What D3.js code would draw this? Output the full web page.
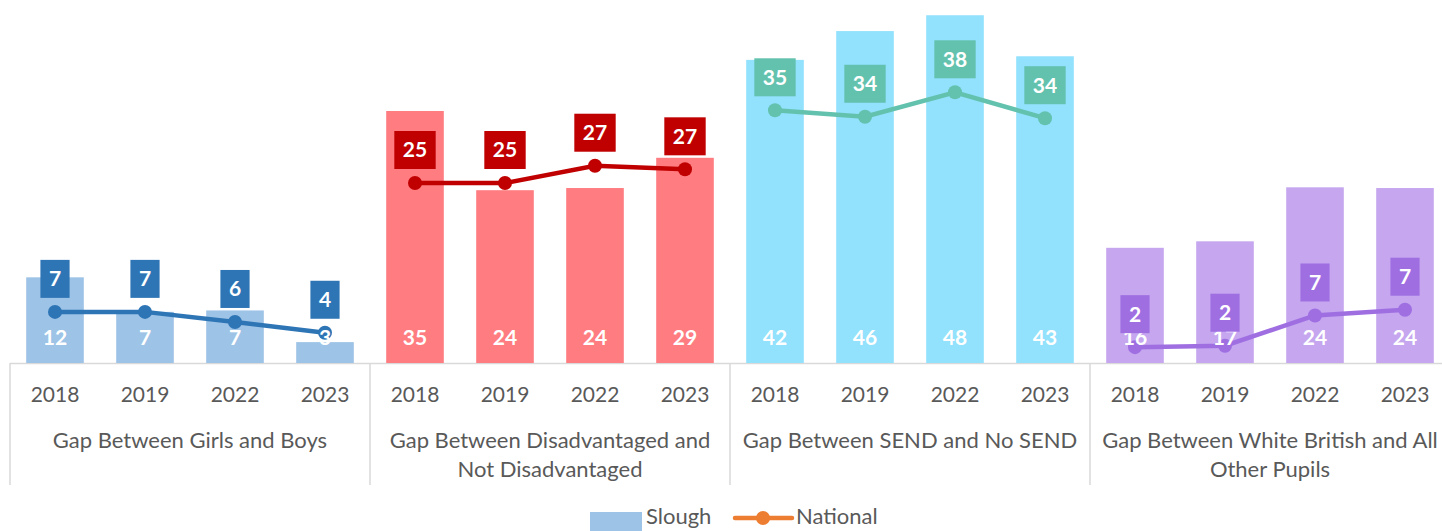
<!DOCTYPE html>
<html>
<head>
<meta charset="utf-8">
<script src="https://cdn.jsdelivr.net/npm/d3@7"></script>
<style>
  body { margin: 0; background: #fff; }
  svg { display: block; font-family: Lato, "Open Sans", sans-serif; }
</style>
</head>
<body>
<svg id="chart"></svg>
<script>
// Attainment gaps: Slough (bars) vs National (lines), four gap measures x four years

const groups = ["girlsBoys", "disadvantaged", "send", "whiteBritish"];
const groupLabels = [
    ["Gap Between Girls and Boys"],
    ["Gap Between Disadvantaged and", "Not Disadvantaged"],
    ["Gap Between SEND and No SEND"],
    ["Gap Between White British and All", "Other Pupils"]
];
const years = ["2018", "2019", "2022", "2023"];

const sloughGirlsBoys = [11.9, 7.1, 7.3, 2.9];
const sloughDisadvantaged = [35.0, 24.0, 24.3, 28.5];
const sloughSend = [42.1, 46.1, 48.3, 42.6];
const sloughWhiteBritish = [16.0, 16.9, 24.4, 24.3];

const nationalGirlsBoys = [7.1, 7.1, 5.7, 4.2];
const nationalDisadvantaged = [25.0, 25.0, 27.4, 26.9];
const nationalSend = [35.1, 34.2, 37.6, 34.0];
const nationalWhiteBritish = [2.2, 2.4, 6.6, 7.4];

const sloughValues = [sloughGirlsBoys, sloughDisadvantaged, sloughSend, sloughWhiteBritish];
const nationalValues = [nationalGirlsBoys, nationalDisadvantaged, nationalSend, nationalWhiteBritish];

const barColors = ["#9dc3e6", "#ff7c80", "#92e1fd", "#c5a6ef"];
const lineColors = ["#2e75b6", "#c00000", "#63c2ae", "#9f6fe2"];

const chartWidth = 1442;
const chartHeight = 531;
const textColor = "#595959";
const gridColor = "#d9d9d9";

const svg = d3.select("#chart")
    .attr("width", chartWidth)
    .attr("height", chartHeight);

const xGroup = d3.scaleBand().domain(groups).range([10, 1450]);
const xYear = d3.scaleBand().domain(years)
    .range([0, xGroup.bandwidth()])
    .paddingInner(0.36)
    .paddingOuter(0.18);
const yScale = d3.scaleLinear().domain([0, 50]).range([363, 3]);

const cx = (gi, yi) => xGroup(groups[gi]) + xYear(years[yi]) + xYear.bandwidth() / 2;

// category axis frame
const axisG = svg.append("g");
axisG.append("line")
    .attr("x1", 10).attr("x2", 1450)
    .attr("y1", yScale(0) + 0.5).attr("y2", yScale(0) + 0.5)
    .attr("stroke", gridColor).attr("stroke-width", 1.5);
axisG.selectAll(".sep")
    .data(groups)
    .join("line")
    .attr("x1", d => xGroup(d)).attr("x2", d => xGroup(d))
    .attr("y1", yScale(0)).attr("y2", 485)
    .attr("stroke", gridColor).attr("stroke-width", 1.5);

groups.forEach((grp, gi) => {
    axisG.selectAll(null)
        .data(years)
        .join("text")
        .attr("x", (d, yi) => cx(gi, yi))
        .attr("y", 395)
        .attr("dy", "0.35em")
        .attr("text-anchor", "middle")
        .attr("font-size", "21px")
        .attr("fill", textColor)
        .text(d => d);

    axisG.selectAll(null)
        .data(groupLabels[gi])
        .join("text")
        .attr("x", xGroup(grp) + xGroup.bandwidth() / 2)
        .attr("y", (d, i) => 440 + i * 29)
        .attr("dy", "0.35em")
        .attr("text-anchor", "middle")
        .attr("font-size", "22px")
        .attr("fill", textColor)
        .text(d => d);
});

const line = d3.line()
    .x(d => d.x)
    .y(d => yScale(d.v));

const plot = svg.append("g");

// bars
groups.forEach((grp, gi) => {
    plot.selectAll(null)
        .data(sloughValues[gi])
        .join("rect")
        .attr("x", (d, yi) => xGroup(grp) + xYear(years[yi]))
        .attr("width", xYear.bandwidth())
        .attr("y", d => yScale(d))
        .attr("height", d => yScale(0) - yScale(d))
        .attr("fill", barColors[gi]);
});

// national lines
groups.forEach((grp, gi) => {
    const pts = nationalValues[gi].map((v, yi) => ({ x: cx(gi, yi), v }));
    plot.append("path")
        .datum(pts)
        .attr("fill", "none")
        .attr("stroke", lineColors[gi])
        .attr("stroke-width", 4.5)
        .attr("d", line);
    plot.selectAll(null)
        .data(pts)
        .join("circle")
        .attr("cx", d => d.x)
        .attr("cy", d => yScale(d.v))
        .attr("r", 7)
        .attr("fill", lineColors[gi]);
});

// bar labels
groups.forEach((grp, gi) => {
    plot.selectAll(null)
        .data(sloughValues[gi])
        .join("text")
        .attr("x", (d, yi) => cx(gi, yi))
        .attr("y", 338)
        .attr("dy", "0.35em")
        .attr("text-anchor", "middle")
        .attr("font-size", "21px")
        .attr("font-weight", "bold")
        .attr("fill", "#fff")
        .text(d => Math.round(d));
});

// national label boxes
groups.forEach((grp, gi) => {
    nationalValues[gi].forEach((v, yi) => {
        const x = cx(gi, yi);
        const yBottom = yScale(v) - 14;
        const lbl = plot.append("g");
        const txt = lbl.append("text")
            .attr("x", x)
            .attr("y", yBottom - 19)
            .attr("dy", "0.35em")
            .attr("text-anchor", "middle")
            .attr("font-size", "21px")
            .attr("font-weight", "bold")
            .attr("fill", "#fff")
            .text(Math.round(v));
        const w = txt.node().getComputedTextLength() + 17;
        lbl.insert("rect", "text")
            .attr("x", x - w / 2)
            .attr("y", yBottom - 38)
            .attr("width", w)
            .attr("height", 38)
            .attr("fill", lineColors[gi]);
    });
});

// legend
const legend = svg.append("g");
legend.append("rect")
    .attr("x", 590).attr("y", 512)
    .attr("width", 52).attr("height", 20)
    .attr("fill", barColors[0]);
legend.append("text")
    .attr("x", 646).attr("y", 516)
    .attr("dy", "0.35em")
    .attr("font-size", "22px")
    .attr("fill", textColor)
    .text("Slough");
legend.append("line")
    .attr("x1", 735).attr("x2", 792)
    .attr("y1", 518).attr("y2", 518)
    .attr("stroke", "#ed7d31").attr("stroke-width", 4.5)
    .attr("stroke-linecap", "round");
legend.append("circle")
    .attr("cx", 763).attr("cy", 518).attr("r", 7)
    .attr("fill", "#ed7d31");
legend.append("text")
    .attr("x", 796).attr("y", 516)
    .attr("dy", "0.35em")
    .attr("font-size", "22px")
    .attr("fill", textColor)
    .text("National");
</script>
</body>
</html>
